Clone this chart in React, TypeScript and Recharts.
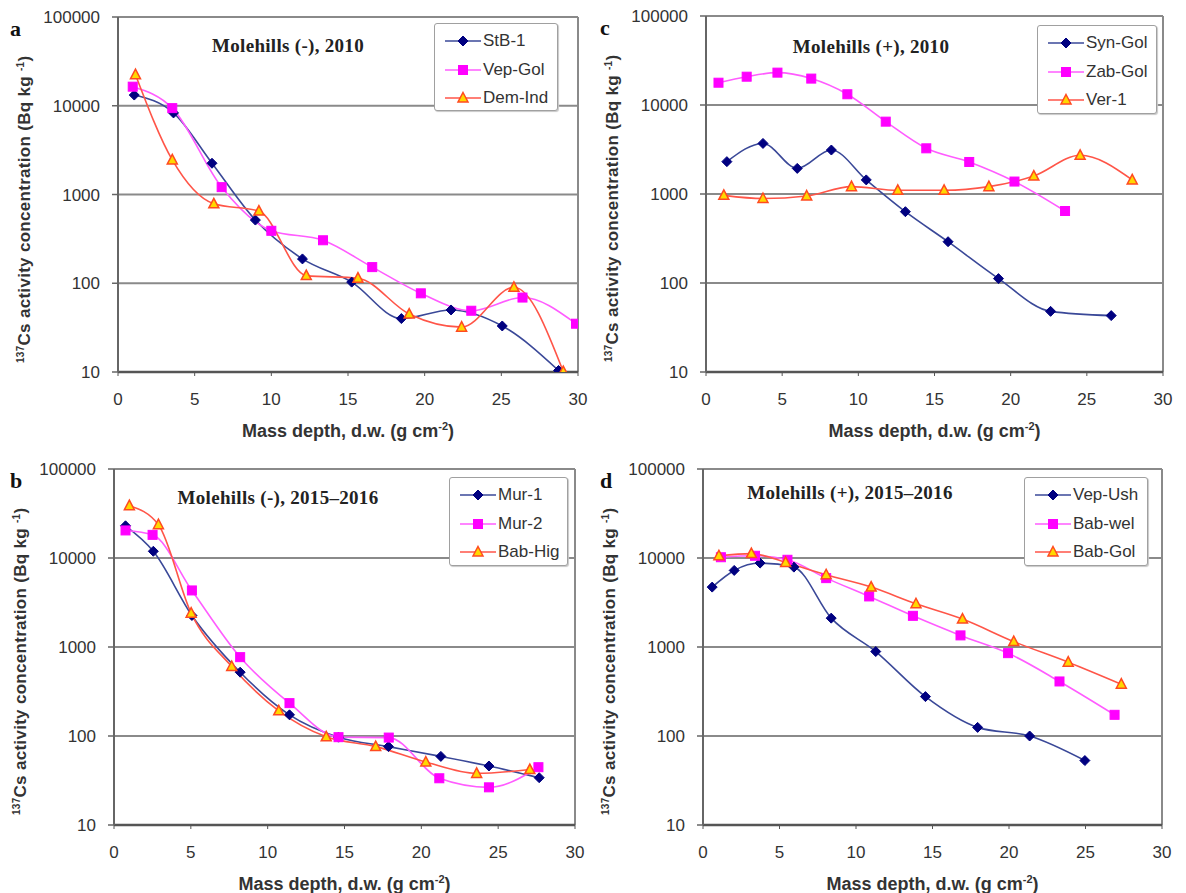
import { CartesianGrid, Line, LineChart, ReferenceLine, XAxis, YAxis } from 'recharts';

// panel a: Molehills (-), 2010
const depthStB1 = [1.06, 3.62, 6.13, 8.96, 12.03, 15.24, 18.48, 21.72, 25.06, 28.73];
const stB1 = [13200, 8300, 2250, 515, 188, 103, 40, 50, 33, 10.4];
const depthVepGol = [0.96, 3.54, 6.76, 10.0, 13.37, 16.58, 19.75, 23.04, 26.38, 29.87];
const vepGol = [16400, 9400, 1210, 390, 305, 152, 77, 49, 69, 35];
const depthDemInd = [1.14, 3.54, 6.25, 9.19, 12.28, 15.65, 18.99, 22.41, 25.82, 29.04];
const demInd = [22400, 2450, 785, 650, 122, 114, 45, 32, 90, 10.1];

// panel b: Molehills (-), 2015–2016
const depthMur1 = [0.75, 2.56, 5.07, 8.21, 11.42, 14.61, 17.86, 21.27, 24.4, 27.67];
const mur1 = [23000, 11900, 2260, 521, 173, 97, 76, 59, 46, 34];
const depthMur2 = [0.75, 2.51, 5.07, 8.21, 11.42, 14.61, 17.88, 21.17, 24.4, 27.62];
const mur2 = [20400, 18200, 4320, 769, 234, 97, 96, 33.5, 26.5, 44.6];
const depthBabHig = [1.0, 2.89, 5.02, 7.66, 10.72, 13.81, 17.03, 20.29, 23.6, 27.06];
const babHig = [38700, 23700, 2400, 604, 192, 98, 76, 51, 38, 42];

// panel c: Molehills (+), 2010
const depthSynGol = [1.37, 3.74, 5.99, 8.23, 10.52, 13.09, 15.89, 19.2, 22.62, 26.6];
const synGol = [2310, 3700, 1940, 3120, 1440, 633, 291, 112, 48, 43];
const depthZabGol = [0.82, 2.67, 4.69, 6.91, 9.28, 11.8, 14.46, 17.28, 20.25, 23.57];
const zabGol = [17800, 20800, 23100, 19800, 13200, 6500, 3260, 2290, 1380, 644];
const depthVer1 = [1.17, 3.74, 6.61, 9.55, 12.59, 15.63, 18.57, 21.52, 24.56, 27.98];
const ver1 = [966, 890, 950, 1210, 1100, 1100, 1210, 1590, 2720, 1440];

// panel d: Molehills (+), 2015–2016
const depthVepUsh = [0.6, 2.04, 3.73, 5.94, 8.38, 11.29, 14.54, 17.95, 21.35, 24.96];
const vepUsh = [4710, 7250, 8770, 7900, 2110, 889, 277, 125, 100, 53];
const depthBabWel = [1.17, 3.4, 5.52, 8.05, 10.86, 13.72, 16.83, 19.94, 23.3, 26.9];
const babWel = [10200, 10600, 9550, 5940, 3700, 2240, 1350, 853, 410, 173];
const depthBabGol = [1.04, 3.16, 5.4, 8.05, 10.99, 13.92, 16.96, 20.31, 23.87, 27.34];
const babGol = [10600, 11200, 8920, 6480, 4710, 3060, 2060, 1150, 675, 382];

const xTicks = [0, 5, 10, 15, 20, 25, 30];
const yTicks = [10, 100, 1000, 10000, 100000];

const SANS = '"Liberation Sans", Arial, sans-serif';
const SERIF = '"Liberation Serif", "Times New Roman", serif';

type Kind = 'diamond' | 'square' | 'triangle';

const KIND_STYLE: Record<Kind, { line: string; fill: string; stroke: string }> = {
  diamond: { line: '#3a4898', fill: '#000080', stroke: '#000080' },
  square: { line: '#ff5cff', fill: '#ff00ff', stroke: '#ff00ff' },
  triangle: { line: '#ff5548', fill: '#ffd800', stroke: '#ff4a20' },
};

interface Series {
  name: string;
  kind: Kind;
  x: number[];
  y: number[];
}

function Marker({ kind, cx, cy }: { kind: Kind; cx: number; cy: number }) {
  const s = KIND_STYLE[kind];
  if (kind === 'diamond') {
    return (
      <path
        d={`M${cx},${cy - 5} L${cx + 5},${cy} L${cx},${cy + 5} L${cx - 5},${cy} Z`}
        fill={s.fill}
        stroke={s.stroke}
        strokeWidth={1}
      />
    );
  }
  if (kind === 'square') {
    return <rect x={cx - 4.5} y={cy - 4.5} width={9} height={9} fill={s.fill} stroke={s.stroke} />;
  }
  return (
    <path
      d={`M${cx},${cy - 5.5} L${cx + 5},${cy + 4} L${cx - 5},${cy + 4} Z`}
      fill={s.fill}
      stroke={s.stroke}
      strokeWidth={1.5}
    />
  );
}

interface PanelProps {
  letter: string;
  title: string;
  ox: number;
  oy: number;
  plotLeft: number;
  plotRight: number;
  plotTop: number;
  plotBottom: number;
  titleX: number;
  titleY: number;
  legend: { left: number; top: number; width: number; height: number };
  series: Series[];
}

const W = 590;
const H = 450;

function Panel(p: PanelProps) {
  const xAxisHeight = 30;
  const margin = {
    top: p.plotTop - p.oy,
    right: p.ox + W - p.plotRight,
    left: 0,
    bottom: p.oy + H - p.plotBottom - xAxisHeight,
  };
  const midX = (p.plotLeft + p.plotRight) / 2;
  const midY = (p.plotTop + p.plotBottom) / 2;
  return (
    <>
      <div style={{ position: 'absolute', left: p.ox, top: p.oy }}>
        <LineChart width={W} height={H} margin={margin}>
          <CartesianGrid horizontal vertical={false} stroke="#8a8a8a" strokeWidth={2} />
          <XAxis
            type="number"
            dataKey="x"
            domain={[0, 30]}
            ticks={xTicks}
            height={xAxisHeight}
            allowDataOverflow
            axisLine={{ stroke: '#555', strokeWidth: 2.5 }}
            tickLine={{ stroke: '#555' }}
            tickSize={4}
            tickMargin={17}
            tick={{ fill: '#333', fontSize: 17, fontFamily: SANS }}
          />
          <YAxis
            type="number"
            scale="log"
            domain={[10, 100000]}
            ticks={yTicks}
            allowDataOverflow
            width={p.plotLeft - p.ox}
            axisLine={{ stroke: '#666', strokeWidth: 2 }}
            tickLine={{ stroke: '#666', strokeWidth: 1.5 }}
            tickSize={6}
            tickMargin={12}
            tick={{ fill: '#333', fontSize: 17, fontFamily: SANS }}
          />
          <ReferenceLine x={30} stroke="#8a8a8a" strokeWidth={2} />
          {p.series.map((s) => (
            <Line
              key={s.name}
              data={s.x.map((x, i) => ({ x, y: s.y[i] }))}
              dataKey="y"
              type="monotone"
              stroke={KIND_STYLE[s.kind].line}
              strokeWidth={1.6}
              isAnimationActive={false}
              dot={(d: any) => <Marker key={`${s.name}-${d.index}`} kind={s.kind} cx={d.cx} cy={d.cy} />}
              activeDot={false}
            />
          ))}
        </LineChart>
      </div>

      <div
        style={{
          position: 'absolute',
          left: p.ox + 10,
          top: p.plotTop + 1,
          fontFamily: SERIF,
          fontWeight: 'bold',
          fontSize: 22,
          lineHeight: '22px',
          color: '#111',
        }}
      >
        {p.letter}
      </div>

      <div
        style={{
          position: 'absolute',
          left: p.titleX - 150,
          width: 300,
          top: p.titleY - 11,
          textAlign: 'center',
          fontFamily: SERIF,
          fontWeight: 'bold',
          fontSize: 19,
          lineHeight: '22px',
          letterSpacing: 0.3,
          color: '#222',
        }}
      >
        {p.title}
      </div>

      <div
        style={{
          position: 'absolute',
          left: p.plotLeft - 95 - 200,
          width: 400,
          top: midY + 12 - 11,
          transform: 'rotate(-90deg)',
          textAlign: 'center',
          fontFamily: SANS,
          fontWeight: 'bold',
          fontSize: 17,
          letterSpacing: 0.3,
          lineHeight: '22px',
          color: '#333',
          whiteSpace: 'nowrap',
        }}
      >
        <sup style={{ fontSize: 10 }}>137</sup>Cs activity concentration (Bq kg <sup style={{ fontSize: 10 }}>-1</sup>)
      </div>

      <div
        style={{
          position: 'absolute',
          left: midX - 200,
          width: 400,
          top: p.plotBottom + 43,
          textAlign: 'center',
          fontFamily: SANS,
          fontWeight: 'bold',
          fontSize: 18,
          lineHeight: '22px',
          color: '#333',
        }}
      >
        Mass depth, d.w. (g cm<sup style={{ fontSize: 11 }}>-2</sup>)
      </div>

      <div
        style={{
          position: 'absolute',
          left: p.legend.left,
          top: p.legend.top,
          width: p.legend.width,
          height: p.legend.height,
          boxSizing: 'border-box',
          border: '1.5px solid #a0a0a0',
          borderRadius: 3,
          boxShadow: '1px 1px 1px #c8c8c8',
          background: '#fff',
          paddingTop: 3,
        }}
      >
        {p.series.map((s) => (
          <div key={s.name} style={{ display: 'flex', alignItems: 'center', height: 28.5 }}>
            <svg width={46} height={14} style={{ marginLeft: 8 }}>
              <line x1={2} y1={7} x2={38} y2={7} stroke={KIND_STYLE[s.kind].line} strokeWidth={1.6} />
              <Marker kind={s.kind} cx={20} cy={7} />
            </svg>
            <span style={{ fontFamily: SANS, fontSize: 17, color: '#333', marginLeft: -6 }}>{s.name}</span>
          </div>
        ))}
      </div>
    </>
  );
}

export default function App() {
  return (
    <div
      style={{
        position: 'absolute',
        left: 0,
        top: 0,
        width: 1186,
        height: 893,
        background: '#fff',
        overflow: 'hidden',
      }}
    >
      <Panel
        letter="a"
        title="Molehills (-), 2010"
        ox={0}
        oy={0}
        plotLeft={118}
        plotRight={578}
        plotTop={17}
        plotBottom={372}
        titleX={288}
        titleY={46}
        legend={{ left: 434, top: 23, width: 124, height: 88 }}
        series={[
          { name: 'StB-1', kind: 'diamond', x: depthStB1, y: stB1 },
          { name: 'Vep-Gol', kind: 'square', x: depthVepGol, y: vepGol },
          { name: 'Dem-Ind', kind: 'triangle', x: depthDemInd, y: demInd },
        ]}
      />
      <Panel
        letter="c"
        title="Molehills (+), 2010"
        ox={590}
        oy={0}
        plotLeft={706}
        plotRight={1163}
        plotTop={16}
        plotBottom={372}
        titleX={871}
        titleY={47}
        legend={{ left: 1037, top: 25, width: 120, height: 89 }}
        series={[
          { name: 'Syn-Gol', kind: 'diamond', x: depthSynGol, y: synGol },
          { name: 'Zab-Gol', kind: 'square', x: depthZabGol, y: zabGol },
          { name: 'Ver-1', kind: 'triangle', x: depthVer1, y: ver1 },
        ]}
      />
      <Panel
        letter="b"
        title="Molehills (-), 2015–2016"
        ox={0}
        oy={450}
        plotLeft={114}
        plotRight={575}
        plotTop={469}
        plotBottom={825}
        titleX={278}
        titleY={498}
        legend={{ left: 449, top: 477, width: 119, height: 89 }}
        series={[
          { name: 'Mur-1', kind: 'diamond', x: depthMur1, y: mur1 },
          { name: 'Mur-2', kind: 'square', x: depthMur2, y: mur2 },
          { name: 'Bab-Hig', kind: 'triangle', x: depthBabHig, y: babHig },
        ]}
      />
      <Panel
        letter="d"
        title="Molehills (+), 2015–2016"
        ox={590}
        oy={450}
        plotLeft={703}
        plotRight={1162}
        plotTop={469}
        plotBottom={825}
        titleX={850}
        titleY={493}
        legend={{ left: 1024, top: 477, width: 124, height: 89 }}
        series={[
          { name: 'Vep-Ush', kind: 'diamond', x: depthVepUsh, y: vepUsh },
          { name: 'Bab-wel', kind: 'square', x: depthBabWel, y: babWel },
          { name: 'Bab-Gol', kind: 'triangle', x: depthBabGol, y: babGol },
        ]}
      />
    </div>
  );
}
